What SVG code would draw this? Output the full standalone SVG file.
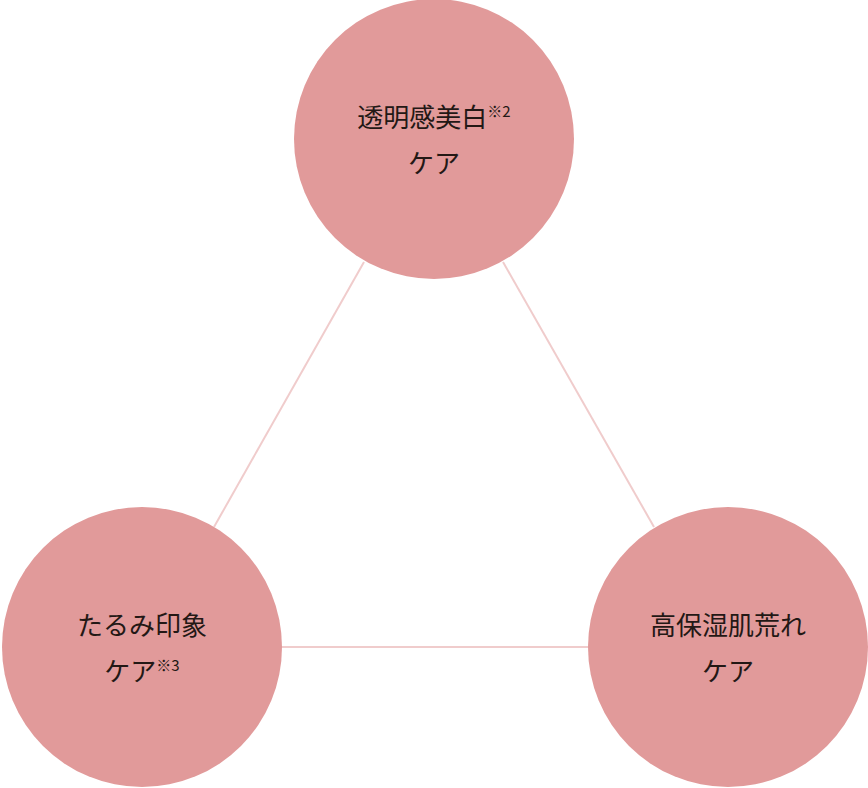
<svg xmlns="http://www.w3.org/2000/svg" width="868" height="788" viewBox="0 0 868 788">
<style>
.c{fill:#e19a9a}
.t{font-family:"Noto Sans CJK JP","Noto Sans",sans-serif;font-size:26px;fill:#231815;text-anchor:middle}
.s{font-size:15px}
.l{stroke:#f0cccc;stroke-width:2;fill:none}
</style>
<rect width="868" height="788" fill="#fff"/>
<g id="connectors">
<line class="l" x1="364" y1="262" x2="214" y2="527"/>
<line class="l" x1="503" y1="262" x2="654" y2="527"/>
<line class="l" x1="282" y1="647" x2="588" y2="647"/>
</g>
<g id="n1"><circle class="c" cx="434" cy="139" r="140"/>
<text class="t" x="434" y="127"><tspan>透明感美白</tspan><tspan class="s" dy="-10">※2</tspan></text>
<text class="t" x="434" y="173">ケア</text></g>
<g id="n2"><circle class="c" cx="142" cy="647" r="140"/>
<text class="t" x="142" y="635">たるみ印象</text>
<text class="t" x="142" y="681"><tspan>ケア</tspan><tspan class="s" dy="-10">※3</tspan></text></g>
<g id="n3"><circle class="c" cx="728" cy="647" r="140"/>
<text class="t" x="728" y="635">高保湿肌荒れ</text>
<text class="t" x="728" y="681">ケア</text></g>
</svg>
